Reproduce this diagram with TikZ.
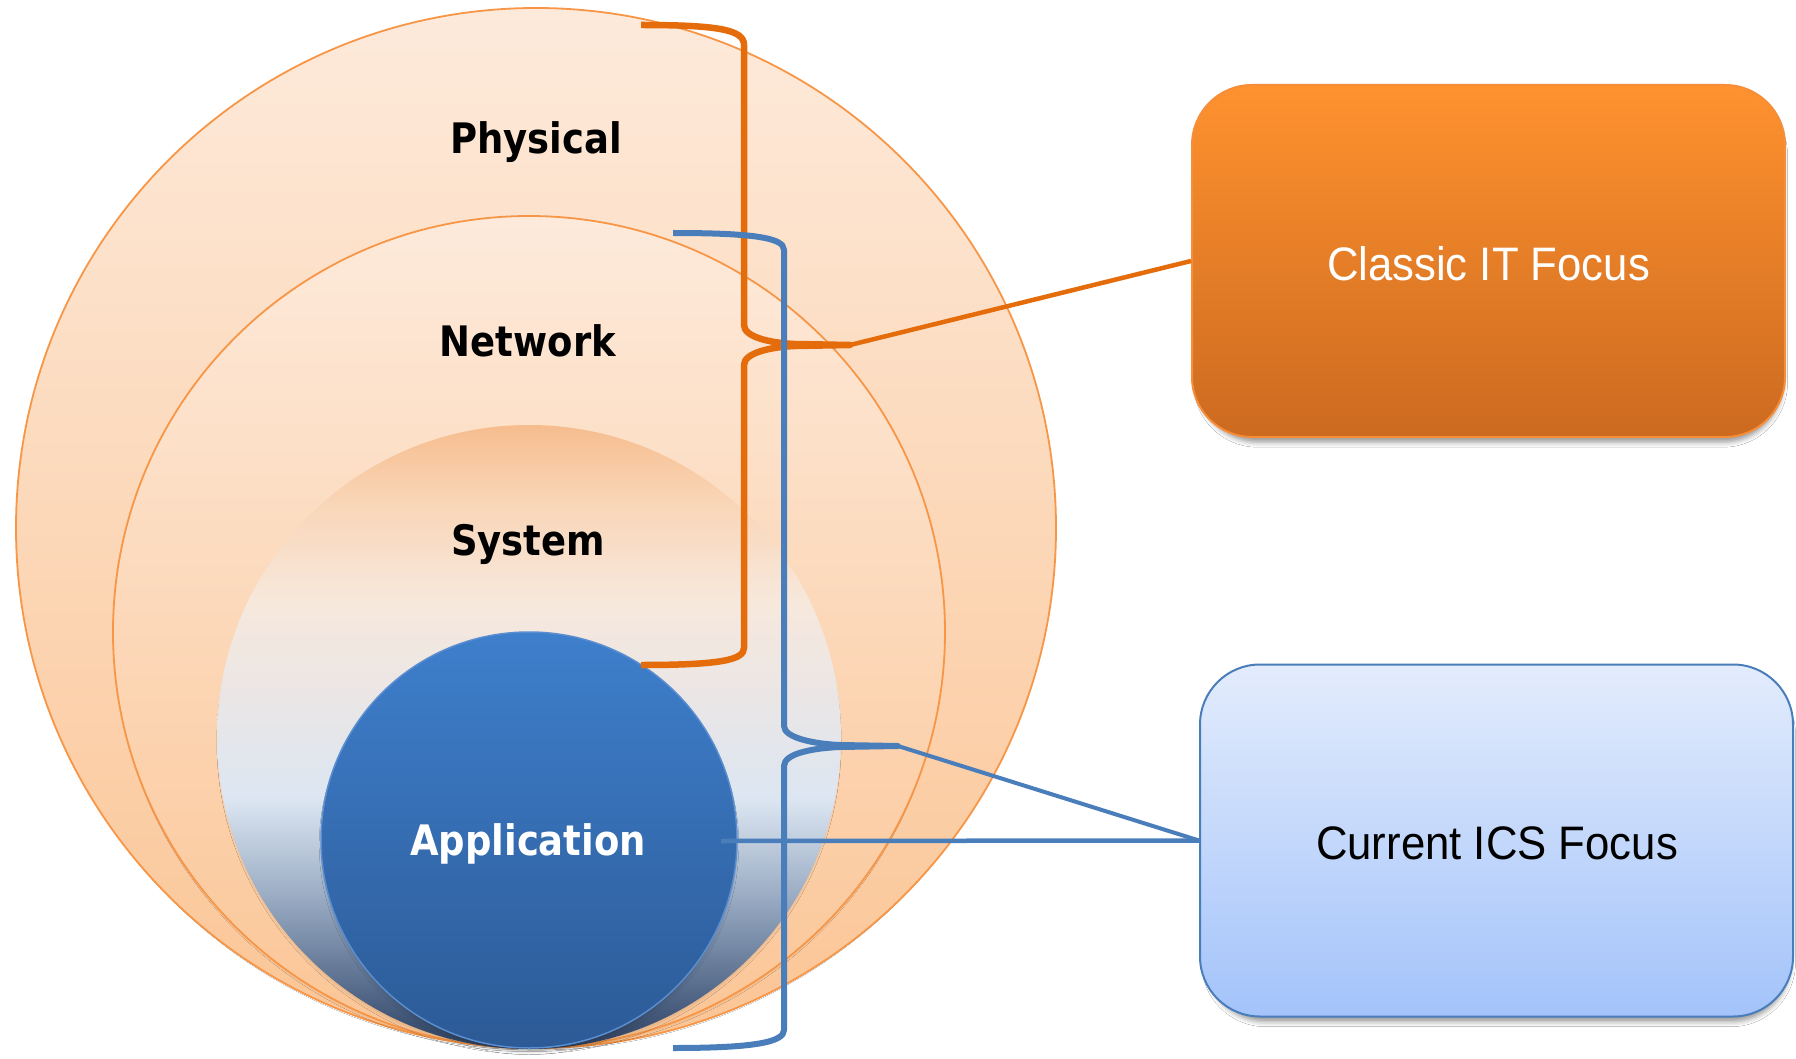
\documentclass[tikz,border=0pt]{standalone}
\usepackage{fontspec}
\usetikzlibrary{shadows.blur}
\newfontfamily\lblfont[FakeStretch=0.88]{DejaVu Sans}
\newfontfamily\boxfont[FakeStretch=0.93]{Liberation Sans}
\definecolor{ringline}{HTML}{F79646}
\definecolor{ringtop}{HTML}{FDEADB}
\definecolor{ringbot}{HTML}{FBC595}
\definecolor{bracor}{HTML}{E46C0A}
\definecolor{bracblue}{HTML}{4A7EBB}
\definecolor{apptop}{HTML}{3E7FCC}
\definecolor{appbot}{HTML}{2C5A96}
\definecolor{appline}{HTML}{5A8ED0}
\definecolor{clstop}{HTML}{FF922F}
\definecolor{clsbot}{HTML}{CC6A20}
\definecolor{clsline}{HTML}{F68D39}
\definecolor{curtop}{HTML}{E3ECFC}
\definecolor{curbot}{HTML}{A3C3FA}
\definecolor{sysA}{HTML}{2B3F5E}
\definecolor{sysB}{HTML}{4F6485}
\definecolor{sysC}{HTML}{98AAC2}
\definecolor{sysD}{HTML}{DCE6F2}
\definecolor{sysE}{HTML}{EAE6E6}
\definecolor{sysF}{HTML}{F7E8DC}
\definecolor{sysG}{HTML}{F9D5B6}
\definecolor{sysH}{HTML}{F6BD8E}
\pgfdeclareverticalshading{sysshade}{100bp}{color(0bp)=(sysA); color(25bp)=(sysA); color(29bp)=(sysB); color(37bp)=(sysC); color(45bp)=(sysD); color(53bp)=(sysE); color(61bp)=(sysF); color(69bp)=(sysG); color(75bp)=(sysH); color(100bp)=(sysH)}
\begin{document}
\begin{tikzpicture}[x=1pt,y=-1pt,
  layer/.style={circle, inner sep=0pt, outer sep=0pt},
  circshadow/.style={blur shadow={shadow xshift=0pt, shadow yshift=-5pt, shadow scale=0.985, shadow blur radius=5pt, shadow opacity=25}},
  ring/.style={layer, draw=ringline, line width=1.8pt, top color=ringtop, bottom color=ringbot, circshadow},
  lbl/.style={font=\lblfont\bfseries\fontsize{42}{50}\selectfont, anchor=base, inner sep=0pt},
  brace/.style={line width=6.5pt, line join=round, line cap=butt},
  conn/.style={line width=4.5pt},
  focusbox/.style={rounded corners=60pt, minimum width=593pt, minimum height=352pt, inner sep=0pt, line width=2pt,
    blur shadow={shadow xshift=2pt, shadow yshift=-8pt, shadow scale=0.985, shadow blur radius=5pt, shadow opacity=40}},
  boxtext/.style={font=\boxfont\fontsize{47}{56}\selectfont, inner sep=0pt}
]
\fill[white] (0,0) rectangle (1796,1059);
\useasboundingbox (0,0) rectangle (1796,1059);

% nested layers
\node[ring, minimum size=1040pt] (phys) at (536,528) {};
\node[ring, minimum size=832pt] (net) at (529,632) {};
\node[layer, minimum size=624pt, shading=sysshade, circshadow] (sys) at (529,737) {};
\node[layer, minimum size=416pt, top color=apptop, bottom color=appbot, draw=appline, line width=1.5pt, circshadow] (app) at (529,840) {};

\node[lbl] (lphys) at (536,154) {Physical};
\node[lbl] (lnet) at (528,356) {Network};
\node[lbl] (lsys) at (528,555) {System};
\node[lbl, text=white] (lapp) at (528,855) {Application};

% focus boxes
\node[focusbox, draw=clsline, top color=clstop, bottom color=clsbot] (classic) at (1488.5,261) {};
\node[boxtext, text=white] (tclassic) at (1488.5,264) {Classic IT Focus};
\node[focusbox, draw=bracblue, top color=curtop, bottom color=curbot] (current) at (1496.5,840.5) {};
\node[boxtext, text=black] (tcurrent) at (1497,843.5) {Current ICS Focus};

% orange brace
\coordinate (otop) at (641,25);
\coordinate (otip) at (850,345);
\coordinate (obot) at (641,665);
\draw[brace, draw=bracor] (otop) .. controls (720,25) and (744,30) .. (744,45)
  -- (744,325) .. controls (744,337) and (770,343) .. (795,344) -- (otip)
  -- (795,346) .. controls (770,347) and (744,353) .. (744,365)
  -- (744,648) .. controls (744,660) and (720,665) .. (obot);
\draw[conn, draw=bracor] (otip) -- (classic.west);

% blue brace
\coordinate (btop) at (673,233);
\coordinate (btip) at (898,746);
\coordinate (bbot) at (673,1048);
\coordinate (appanchor) at (721,841);
\draw[brace, draw=bracblue, line width=6pt] (btop) .. controls (755,233) and (784,238) .. (784,250)
  -- (784,726) .. controls (784,738) and (815,744) .. (840,745) -- (btip)
  -- (840,747) .. controls (815,748) and (784,753) .. (784,766)
  -- (784,1030) .. controls (784,1042) and (755,1048) .. (bbot);
\draw[conn, draw=bracblue, line width=4pt] (btip) -- (current.west);
\draw[conn, draw=bracblue] (appanchor) -- (current.west);
\end{tikzpicture}
\end{document}
